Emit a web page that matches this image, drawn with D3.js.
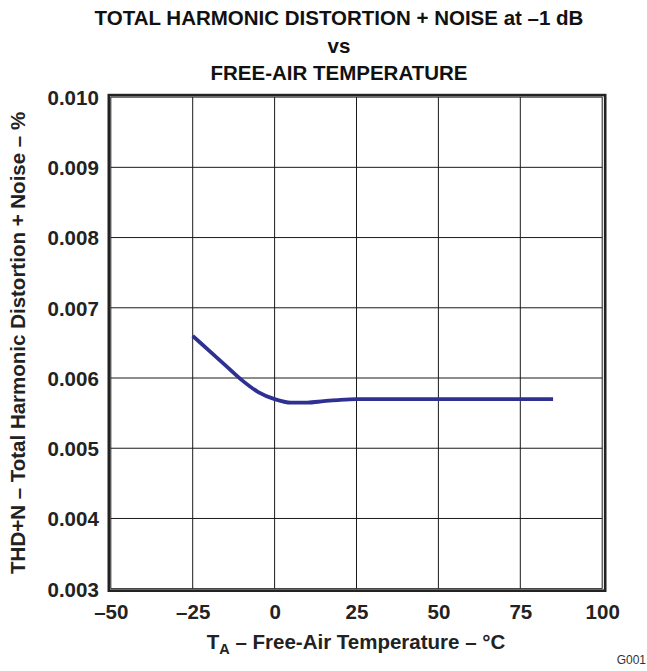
<!DOCTYPE html>
<html><head><meta charset="utf-8">
<script src="https://cdn.jsdelivr.net/npm/d3@7"></script>
<style>body{margin:0;background:#fff}svg{display:block}text{font-family:"Liberation Sans",Arial,sans-serif}</style>
</head><body><svg id="c" width="647" height="671"></svg>
<script>
const titleLines = ["TOTAL HARMONIC DISTORTION + NOISE at \u20131 dB", "vs", "FREE-AIR TEMPERATURE"];
const xTicks = [-50, -25, 0, 25, 50, 75, 100];
const yTicks = [0.003, 0.004, 0.005, 0.006, 0.007, 0.008, 0.009, 0.010];
const temps = [-25, -20, -15, -10, -5, 0, 5, 10, 15, 20, 25, 35, 45, 55, 65, 75, 85];
const thdn  = [0.00660, 0.00639, 0.00618, 0.00597, 0.00580, 0.00570, 0.00565, 0.00565, 0.00567, 0.00569, 0.00570, 0.00570, 0.00570, 0.00570, 0.00570, 0.00570, 0.00570];

const FS = 20.5;
const svg = d3.select("#c");
const x = d3.scaleLinear().domain([-50, 100]).range([110.8, 602.2]);
const y = d3.scaleLinear().domain([0.003, 0.010]).range([588.7, 97.1]);

// grid
const g = svg.append("g");
g.selectAll(".vx").data(xTicks).join("line")
  .attr("x1", d => x(d)).attr("x2", d => x(d)).attr("y1", y(0.010)).attr("y2", y(0.003))
  .attr("stroke", "#1a1a1a").attr("stroke-width", 1);
g.selectAll(".hy").data(yTicks).join("line")
  .attr("y1", d => y(d)).attr("y2", d => y(d)).attr("x1", x(-50)).attr("x2", x(100))
  .attr("stroke", "#1a1a1a").attr("stroke-width", 1);

// frame
svg.append("rect").attr("x", x(-50) - 2).attr("y", y(0.010) - 2)
  .attr("width", x(100) - x(-50) + 5).attr("height", y(0.003) - y(0.010) + 4)
  .attr("fill", "none").attr("stroke", "#222").attr("stroke-width", 2.6);

// axes labels
const xAxis = d3.axisBottom(x).tickValues(xTicks).tickSize(0).tickPadding(0)
  .tickFormat(d => d < 0 ? "\u2013" + Math.abs(d) : String(d));
const xa = svg.append("g").attr("transform", `translate(0,${y(0.003)})`).call(xAxis);
xa.select(".domain").remove();
xa.selectAll("text").attr("dy", null).attr("y", 30).attr("font-size", FS).attr("font-weight", "bold").attr("fill", "#222").style("font-family", '"Liberation Sans",Arial,sans-serif');

const yAxis = d3.axisLeft(y).tickValues(yTicks).tickSize(0).tickPadding(0).tickFormat(d3.format(".3f"));
const ya = svg.append("g").attr("transform", `translate(${x(-50) - 12},0)`).call(yAxis);
ya.select(".domain").remove();
ya.selectAll("text").attr("dy", "0.36em").attr("font-size", FS).attr("font-weight", "bold").attr("fill", "#222").style("font-family", '"Liberation Sans",Arial,sans-serif');

// curve
const line = d3.line().x((d, i) => x(temps[i])).y(d => y(d)).curve(d3.curveMonotoneX);
svg.append("path").datum(thdn).attr("d", line).attr("fill", "none")
  .attr("stroke", "#2e3192").attr("stroke-width", 3.8).attr("stroke-linecap", "butt");

// title
svg.selectAll(".title").data(titleLines).join("text")
  .attr("x", 339).attr("y", (d, i) => 25 + i * 27.5).attr("text-anchor", "middle")
  .attr("font-size", FS).attr("font-weight", "bold").attr("fill", "#111").text(d => d);

// x axis title
const xt = svg.append("text").attr("x", 356).attr("y", 649).attr("text-anchor", "middle")
  .attr("font-size", FS).attr("font-weight", "bold").attr("fill", "#222");
xt.append("tspan").text("T");
xt.append("tspan").attr("font-size", 14.5).attr("dy", 5).text("A");
xt.append("tspan").attr("dy", -5).text(" \u2013 Free-Air Temperature \u2013 \u00B0C");

// y axis title
svg.append("text").attr("transform", `translate(25,${(y(0.010) + y(0.003)) / 2}) rotate(-90)`)
  .attr("text-anchor", "middle").attr("font-size", FS).attr("font-weight", "bold").attr("fill", "#222")
  .text("THD+N \u2013 Total Harmonic Distortion + Noise \u2013 %");

svg.append("text").attr("x", 646).attr("y", 664).attr("text-anchor", "end")
  .attr("font-size", 12).attr("fill", "#333").text("G001");
</script></body></html>
